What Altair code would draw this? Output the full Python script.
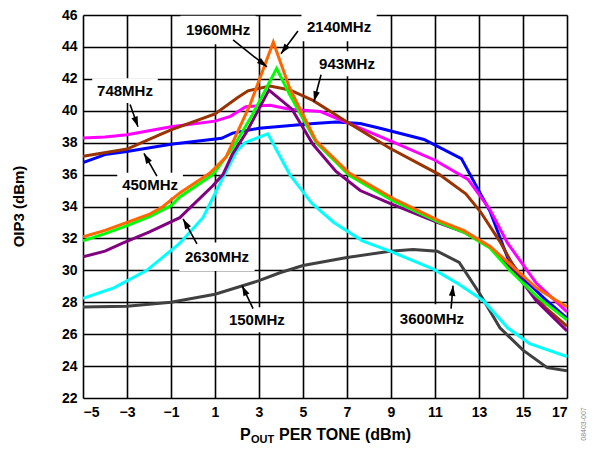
import altair as alt
import pandas as pd
import numpy as np

# ---------------- data ----------------
X_150 = [-5, -3, -1, 1, 3, 3.95, 5, 7, 8.95, 10, 11.1, 12.1, 13.05, 13.95, 15, 16.1, 17]
Y_150 = [27.7, 27.75, 28.0, 28.5, 29.35, 29.85, 30.3, 30.8, 31.2, 31.3, 31.2, 30.5, 28.5, 26.4, 25.0, 23.9, 23.7]

X_3600 = [-5, -3.6, -2.1, -0.6, 0.45, 1.36, 2.0, 2.36, 3.4, 4.4, 5.4, 6.4, 7.7, 8.95, 10.9, 12.0, 13.2, 14.3, 15.3, 17]
Y_3600 = [28.25, 28.9, 30.0, 31.7, 33.3, 35.8, 37.5, 38.0, 38.55, 36.0, 34.2, 33.0, 31.85, 31.2, 30.1, 29.2, 28.1, 26.4, 25.4, 24.6]

X_450 = [-5, -4, -3, -1, 1.3, 1.8, 3, 5.5, 6.5, 7.6, 8.5, 10.5, 12.2, 13.5, 14.3, 15, 16, 17]
Y_450 = [36.75, 37.25, 37.45, 37.9, 38.27, 38.6, 38.9, 39.2, 39.3, 39.2, 38.9, 38.2, 37.0, 33.7, 30.8, 29.5, 28.2, 27.0]

X_748 = [-5, -4, -3, -1, 1, 1.7, 2.4, 3.5, 4.4, 5.8, 9, 11, 12.5, 13.5, 14.3, 15.6, 17]
Y_748 = [38.3, 38.35, 38.5, 39.0, 39.35, 39.65, 40.25, 40.35, 40.1, 39.95, 38.1, 36.9, 35.7, 33.8, 31.7, 29.2, 27.4]

X_943 = [-5, -3, -1.5, -1, 1, 2, 2.5, 3.5, 4.4, 5.45, 7, 8.95, 11.2, 12.4, 13.05, 13.95, 15, 16, 17]
Y_943 = [37.15, 37.6, 38.5, 38.8, 39.8, 40.8, 41.25, 41.55, 41.3, 40.65, 39.3, 37.65, 36.0, 34.8, 33.7, 31.8, 29.2, 27.7, 26.5]

X_2630 = [-5, -4, -3.2, -2, -0.6, 0.9, 1.36, 1.8, 2.45, 3.45, 4.5, 5.45, 6.5, 7.6, 8.95, 11.1, 12.3, 13.5, 14.7, 15.6, 17]
Y_2630 = [30.85, 31.2, 31.7, 32.4, 33.3, 35.3, 36.0, 37.3, 38.7, 41.3, 40.1, 37.9, 36.2, 35.0, 34.2, 33.0, 32.4, 31.5, 29.8, 28.1, 26.2]

X_1960 = [-5, -4, -3, -2, -1, -0.6, 0.9, 1.8, 2.7, 3.8, 4.4, 5.6, 7.1, 9.1, 11.2, 12.3, 13.5, 14.4, 15.6, 17]
Y_1960 = [31.85, 32.3, 32.8, 33.35, 34.05, 34.6, 36.0, 37.65, 39.75, 42.65, 41.0, 38.0, 35.95, 34.35, 33.0, 32.4, 31.4, 30.0, 28.4, 26.9]

X_2140 = [-5, -4, -3, -2, -1.36, -0.6, 0.77, 1.5, 2.6, 3.65, 4.4, 5.6, 7.1, 9.1, 11.2, 12.3, 13.5, 14.4, 15.6, 17]
Y_2140 = [32.1, 32.5, 33.0, 33.5, 34.0, 34.85, 36.1, 37.1, 40.4, 44.3, 41.4, 38.1, 36.1, 34.5, 33.1, 32.5, 31.5, 30.4, 28.9, 27.7]

SERIES_NAMES = ["150MHz", "3600MHz", "450MHz", "748MHz", "943MHz", "2630MHz", "1960MHz", "2140MHz"]
SERIES_X = [X_150, X_3600, X_450, X_748, X_943, X_2630, X_1960, X_2140]
SERIES_Y = [Y_150, Y_3600, Y_450, Y_748, Y_943, Y_2630, Y_1960, Y_2140]
SERIES_COLORS = ["#404040", "#00FFFF", "#0000FF", "#FF00FF", "#993300", "#800080", "#00FF00", "#FF6600"]

X_TICKS = [-5, -3, -1, 1, 3, 5, 7, 9, 11, 13, 15, 17]
Y_TICKS = [22, 24, 26, 28, 30, 32, 34, 36, 38, 40, 42, 44, 46]

LABELS = ["1960MHz", "2140MHz", "943MHz", "748MHz", "450MHz", "2630MHz", "150MHz", "3600MHz"]
LABEL_X = [1.14, 6.64, 7.0, -3.09, -1.95, 1.09, 2.9, 10.86]
LABEL_Y = [45.06, 45.25, 42.95, 41.26, 35.33, 30.85, 26.9, 26.98]
ARROW_TX = [1.82, 4.77, 5.82, -2.86, -1.64, 0.18, 2.73, 11.73]
ARROW_TY = [44.44, 45.0, 42.26, 40.39, 35.9, 31.66, 27.6, 27.6]
ARROW_HX = [3.36, 4.0, 5.5, -2.5, -2.23, -0.45, 2.23, 11.82]
ARROW_HY = [42.75, 43.57, 40.58, 39.0, 37.33, 33.22, 29.04, 29.04]

# ---------------- layout ----------------
W, H = 484, 383
XMIN, XMAX, YMIN, YMAX = -5, 17, 22, 46
FONT = "Liberation Sans"
PX_X = W / (XMAX - XMIN)
PX_Y = H / (YMAX - YMIN)

xscale = alt.Scale(domain=[XMIN, XMAX], nice=False, zero=False)
yscale = alt.Scale(domain=[YMIN, YMAX], nice=False, zero=False)

x_axis = alt.Axis(values=X_TICKS, grid=True, gridColor="#000000", gridWidth=1.6, gridOpacity=1,
                  domain=False, ticks=False, labelFontSize=14, labelFontWeight="bold",
                  labelColor="#000000", labelFont=FONT, labelPadding=7, title=None,
                  labelOverlap=False,
                  labelExpr="replace(datum.label, '-', '\u2013')")
y_axis = alt.Axis(values=Y_TICKS, grid=True, gridColor="#000000", gridWidth=1.6, gridOpacity=1,
                  domain=False, ticks=False, labelFontSize=14, labelFontWeight="bold",
                  labelColor="#000000", labelFont=FONT, labelPadding=6, title=None,
                  labelOverlap=False)

rows = []
for name, xs, ys in zip(SERIES_NAMES, SERIES_X, SERIES_Y):
    for xv, yv in zip(xs, ys):
        rows.append({"series": name, "x": xv, "y": yv})
df = pd.DataFrame(rows)

ann = pd.DataFrame({
    "label": LABELS, "lx": LABEL_X, "ly": LABEL_Y,
    "tx": ARROW_TX, "ty": ARROW_TY, "hx": ARROW_HX, "hy": ARROW_HY,
})
ann["boxsize"] = [(9.6 * len(s) + 8) ** 2 for s in LABELS]
dxp = (ann["hx"] - ann["tx"]) * PX_X
dyp = -(ann["hy"] - ann["ty"]) * PX_Y
ann["angle"] = (np.degrees(np.arctan2(dxp, -dyp)) + 360) % 360

boxes = alt.Chart(ann).mark_point(
    shape="M-1,-0.38L1,-0.38L1,0.38L-1,0.38Z", filled=True, fill="white", opacity=1, strokeWidth=0
).encode(
    x=alt.X("lx:Q", scale=xscale, axis=x_axis),
    y=alt.Y("ly:Q", scale=yscale, axis=y_axis),
    size=alt.Size("boxsize:Q", scale=None, legend=None),
)

layers = [boxes]
for name, color in zip(SERIES_NAMES, SERIES_COLORS):
    layers.append(
        alt.Chart(df[df["series"] == name]).mark_line(strokeWidth=3, color=color, clip=True).encode(
            x=alt.X("x:Q", scale=xscale, axis=x_axis),
            y=alt.Y("y:Q", scale=yscale, axis=y_axis),
        )
    )

arrows = alt.Chart(ann).mark_rule(color="black", strokeWidth=1.6).encode(
    x=alt.X("tx:Q", scale=xscale, axis=x_axis), y=alt.Y("ty:Q", scale=yscale, axis=y_axis),
    x2="hx:Q", y2="hy:Q",
)
heads = alt.Chart(ann).mark_point(
    shape="M0,0L0.32,1L-0.32,1Z", filled=True, color="black", opacity=1, size=420, strokeWidth=0
).encode(
    x=alt.X("hx:Q", scale=xscale, axis=x_axis), y=alt.Y("hy:Q", scale=yscale, axis=y_axis),
    angle=alt.Angle("angle:Q", scale=None),
)
texts = alt.Chart(ann).mark_text(
    font=FONT, fontSize=15, fontWeight="bold", color="black", align="center", baseline="middle"
).encode(
    x=alt.X("lx:Q", scale=xscale, axis=x_axis), y=alt.Y("ly:Q", scale=yscale, axis=y_axis),
    text="label:N",
)
layers += [arrows, heads, texts]

# axis titles built from text marks (for the subscript)
one = pd.DataFrame({"a": [0]})
ty = H + 42
title_parts = [
    ("P", 16, 157, ty),
    ("OUT", 11, 168, ty + 3),
    ("PER TONE (dBm)", 16, 196, ty),
]
for txt, fs, px, py in title_parts:
    layers.append(alt.Chart(one).mark_text(
        font=FONT, fontSize=fs, fontWeight="bold", color="black", align="left", baseline="alphabetic"
    ).encode(x=alt.value(px), y=alt.value(py), text=alt.value(txt)))

layers.append(alt.Chart(one).mark_text(
    font=FONT, fontSize=15, fontWeight="bold", color="black", align="center", baseline="middle", angle=270
).encode(x=alt.value(-64), y=alt.value(H / 2), text=alt.value("OIP3 (dBm)")))

layers.append(alt.Chart(one).mark_text(
    font=FONT, fontSize=7, color="#888888", align="center", baseline="middle", angle=270
).encode(x=alt.value(W + 17), y=alt.value(H + 26), text=alt.value("08403-007")))

chart = alt.layer(*layers).properties(
    width=W, height=H,
    autosize=alt.AutoSizeParams(type="none"),
    padding={"left": 75, "top": 7, "right": 22, "bottom": 47},
).configure_view(
    stroke="#000000", strokeWidth=2.5
).configure(
    font=FONT, background="white"
)

chart.save("out.html", embed_options={"renderer": "svg", "actions": False})
